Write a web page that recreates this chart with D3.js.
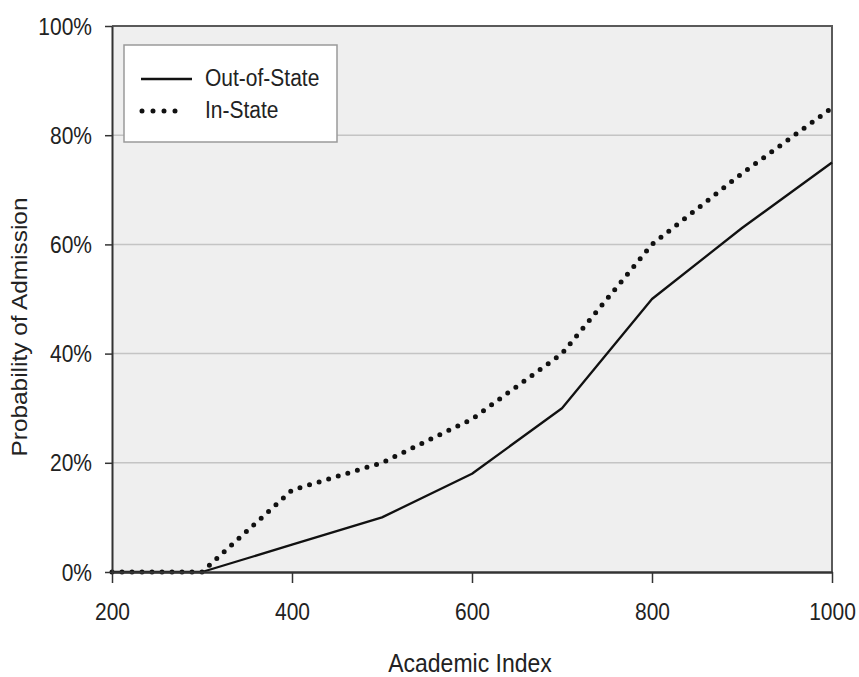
<!DOCTYPE html>
<html>
<head>
<meta charset="utf-8">
<script src="https://cdn.jsdelivr.net/npm/d3@7"></script>
<style>
  html, body { margin: 0; padding: 0; background: #fff; }
  svg { display: block; }
  text { font-family: "Liberation Sans", Arial, sans-serif; fill: #222; }
</style>
</head>
<body>
<svg id="chart" width="859" height="677"></svg>
<script>
// ---- data ----
const academicIndex = [200, 300, 400, 500, 600, 700, 800, 900, 1000];
const outOfState    = [0, 0, 5, 10, 18, 30, 50, 63, 75];
const inState       = [0, 0, 15, 20, 28, 40, 60, 73, 85];
const seriesNames   = ["Out-of-State", "In-State"];
const xTicks        = [200, 400, 600, 800, 1000];
const yTicks        = [0, 20, 40, 60, 80, 100];
const xTitle        = "Academic Index";
const yTitle        = "Probability of Admission";

// ---- layout ----
const svg = d3.select("#chart");
const L = 112, R = 832, T = 26, B = 572;
const SY = 1.12; // vertical stretch of text in the reference
const x = d3.scaleLinear().domain([200, 1000]).range([L, R]);
const y = d3.scaleLinear().domain([0, 100]).range([B, T]);

// plot background
svg.append("rect").attr("x", L).attr("y", T).attr("width", R - L).attr("height", B - T)
  .attr("fill", "#efefef");

// gridlines
svg.append("g").selectAll("line").data(yTicks.filter(d => d > 0 && d < 100)).join("line")
  .attr("x1", L).attr("x2", R).attr("y1", d => y(d)).attr("y2", d => y(d))
  .attr("stroke", "#c4c4c4").attr("stroke-width", 1.5);

// top & right border
svg.append("path").attr("d", `M${L},${T}H${R}V${B}`).attr("fill", "none")
  .attr("stroke", "#5a5a5a").attr("stroke-width", 2);

// lines
const lineGen = d3.line().x((d, i) => x(academicIndex[i])).y(d => y(d));
svg.append("path").datum(outOfState).attr("d", lineGen).attr("fill", "none")
  .attr("stroke", "#111").attr("stroke-width", 2.3).attr("stroke-linejoin", "round");
svg.append("path").datum(inState).attr("d", lineGen).attr("fill", "none")
  .attr("stroke", "#111").attr("stroke-width", 5).attr("stroke-linecap", "round")
  .attr("stroke-dasharray", "0,10");

// y axis
const yAxis = svg.append("g").attr("transform", `translate(${L},0)`)
  .call(d3.axisLeft(y).tickValues(yTicks).tickFormat(d => d + "%").tickSize(7).tickSizeOuter(0));
yAxis.select(".domain").attr("stroke", "#333").attr("stroke-width", 2);
yAxis.selectAll(".tick line").attr("stroke", "#333").attr("stroke-width", 1.5);
yAxis.selectAll(".tick text").attr("x", -20).attr("dy", "0.34em")
  .attr("font-size", 21).attr("fill", "#222").attr("transform", `scale(1,${SY})`)
  .style("font-family", '"Liberation Sans", Arial, sans-serif');

// x axis
const xAxis = svg.append("g").attr("transform", `translate(0,${B})`)
  .call(d3.axisBottom(x).tickValues(xTicks).tickFormat(d3.format("d")).tickSize(11).tickSizeOuter(0));
xAxis.select(".domain").attr("stroke", "#333").attr("stroke-width", 2.5);
xAxis.selectAll(".tick line").attr("stroke", "#333").attr("stroke-width", 1.5);
xAxis.selectAll(".tick text").attr("y", 48 / SY).attr("dy", 0)
  .attr("font-size", 21).attr("fill", "#222").attr("transform", `scale(1,${SY})`)
  .style("font-family", '"Liberation Sans", Arial, sans-serif');

// axis titles
svg.append("text").attr("transform", `translate(470,672) scale(1,${SY})`)
  .attr("text-anchor", "middle").attr("font-size", 23).text(xTitle);
svg.append("text").attr("transform", `translate(27,327) scale(1,${SY}) rotate(-90)`)
  .attr("text-anchor", "middle").attr("font-size", 21.8).text(yTitle);

// legend
const lg = svg.append("g");
lg.append("rect").attr("x", 124).attr("y", 45).attr("width", 213).attr("height", 97)
  .attr("fill", "#fff").attr("stroke", "#9a9a9a").attr("stroke-width", 1.5);
lg.append("line").attr("x1", 141).attr("x2", 192).attr("y1", 79).attr("y2", 79)
  .attr("stroke", "#111").attr("stroke-width", 2.3);
lg.append("line").attr("x1", 142).attr("x2", 186).attr("y1", 111).attr("y2", 111)
  .attr("stroke", "#111").attr("stroke-width", 5).attr("stroke-linecap", "round")
  .attr("stroke-dasharray", "0,11");
lg.selectAll("text.lab").data(seriesNames).join("text").attr("class", "lab")
  .attr("transform", (d, i) => `translate(205,${i === 0 ? 86 : 118}) scale(1,${SY})`)
  .attr("font-size", 21).text(d => d);
</script>
</body>
</html>
